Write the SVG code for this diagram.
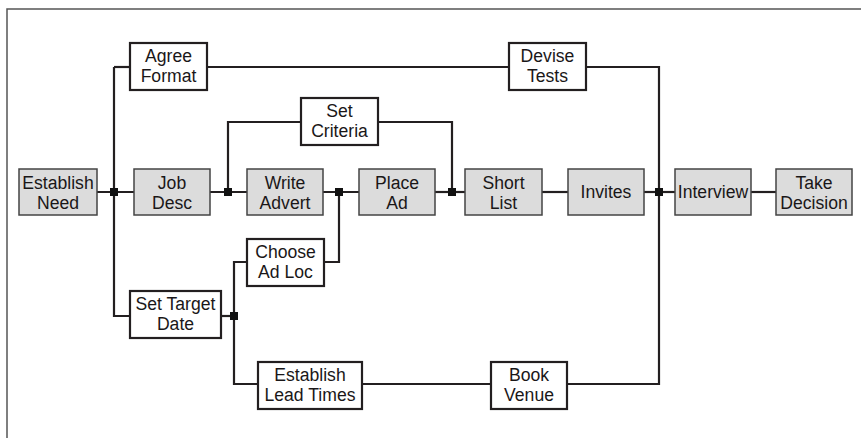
<svg xmlns="http://www.w3.org/2000/svg" width="861" height="438" viewBox="0 0 861 438">
  <style>
    .frame { fill: none; stroke: #555; stroke-width: 1.5; }
    .link { fill: none; stroke: #231f20; stroke-width: 2.2; }
    .dot { fill: #111; }
    .task { fill: #fff; stroke: #231f20; stroke-width: 2.2; }
    .main { fill: #dcdcdc; stroke: #444; stroke-width: 1.5; }
    text { font-family: "Liberation Sans", Arial, Helvetica, sans-serif; font-size: 17.6px; fill: #1a1718; text-anchor: middle; }
  </style>
  <rect width="861" height="438" fill="#fff"/>
  <path class="frame" d="M7,438 V9 H861"/>

  <g id="connectors">
    <path class="link" d="M97,192 H134"/>
    <path class="link" d="M114,67 H130"/>
    <path class="link" d="M114,67 V316 H130"/>
    <path class="link" d="M207,67 H509"/>
    <path class="link" d="M586,67 H659 V384 H567"/>
    <path class="link" d="M210,192 H247"/>
    <path class="link" d="M228,192 V122 H301"/>
    <path class="link" d="M378,122 H452 V192"/>
    <path class="link" d="M323,192 H359"/>
    <path class="link" d="M339,192 V262 H324"/>
    <path class="link" d="M435,192 H465"/>
    <path class="link" d="M542,192 H568"/>
    <path class="link" d="M644,192 H675"/>
    <path class="link" d="M751,192 H776"/>
    <path class="link" d="M221,316 H234"/>
    <path class="link" d="M247,262 H234 V384 H258"/>
    <path class="link" d="M362,384 H491"/>
    <rect class="dot" x="110" y="188" width="8" height="8"/>
    <rect class="dot" x="224" y="188" width="8" height="8"/>
    <rect class="dot" x="335" y="188" width="8" height="8"/>
    <rect class="dot" x="448" y="188" width="8" height="8"/>
    <rect class="dot" x="655" y="188" width="8" height="8"/>
    <rect class="dot" x="230" y="312" width="8" height="8"/>
  </g>

  <g id="establish-need">
    <rect class="main" x="19" y="169" width="78" height="46"/>
    <text x="58" y="188.5">Establish</text>
    <text x="58" y="208.5">Need</text>
  </g>
  <g id="job-desc">
    <rect class="main" x="134" y="169" width="76" height="46"/>
    <text x="172" y="188.5">Job</text>
    <text x="172" y="208.5">Desc</text>
  </g>
  <g id="write-advert">
    <rect class="main" x="247" y="169" width="76" height="46"/>
    <text x="285" y="188.5">Write</text>
    <text x="285" y="208.5">Advert</text>
  </g>
  <g id="place-ad">
    <rect class="main" x="359" y="169" width="76" height="46"/>
    <text x="397" y="188.5">Place</text>
    <text x="397" y="208.5">Ad</text>
  </g>
  <g id="short-list">
    <rect class="main" x="465" y="169" width="77" height="46"/>
    <text x="503.5" y="188.5">Short</text>
    <text x="503.5" y="208.5">List</text>
  </g>
  <g id="invites">
    <rect class="main" x="568" y="169" width="76" height="46"/>
    <text x="606" y="198.3">Invites</text>
  </g>
  <g id="interview">
    <rect class="main" x="675" y="169" width="76" height="46"/>
    <text x="713" y="198.3">Interview</text>
  </g>
  <g id="take-decision">
    <rect class="main" x="776" y="169" width="76" height="46"/>
    <text x="814" y="188.5">Take</text>
    <text x="814" y="208.5">Decision</text>
  </g>

  <g id="agree-format">
    <rect class="task" x="130" y="43" width="77" height="47"/>
    <text x="168.5" y="62">Agree</text>
    <text x="168.5" y="82">Format</text>
  </g>
  <g id="devise-tests">
    <rect class="task" x="509" y="43" width="77" height="47"/>
    <text x="547.5" y="62">Devise</text>
    <text x="547.5" y="82">Tests</text>
  </g>
  <g id="set-criteria">
    <rect class="task" x="301" y="98" width="77" height="47"/>
    <text x="339.5" y="117">Set</text>
    <text x="339.5" y="137">Criteria</text>
  </g>
  <g id="choose-ad-loc">
    <rect class="task" x="247" y="239" width="77" height="47"/>
    <text x="285.5" y="258">Choose</text>
    <text x="285.5" y="278">Ad Loc</text>
  </g>
  <g id="set-target-date">
    <rect class="task" x="130" y="291" width="91" height="47"/>
    <text x="175.5" y="310">Set Target</text>
    <text x="175.5" y="330">Date</text>
  </g>
  <g id="establish-lead-times">
    <rect class="task" x="258" y="362" width="104" height="47"/>
    <text x="310" y="381">Establish</text>
    <text x="310" y="401">Lead Times</text>
  </g>
  <g id="book-venue">
    <rect class="task" x="491" y="362" width="76" height="47"/>
    <text x="529" y="381">Book</text>
    <text x="529" y="401">Venue</text>
  </g>
</svg>
